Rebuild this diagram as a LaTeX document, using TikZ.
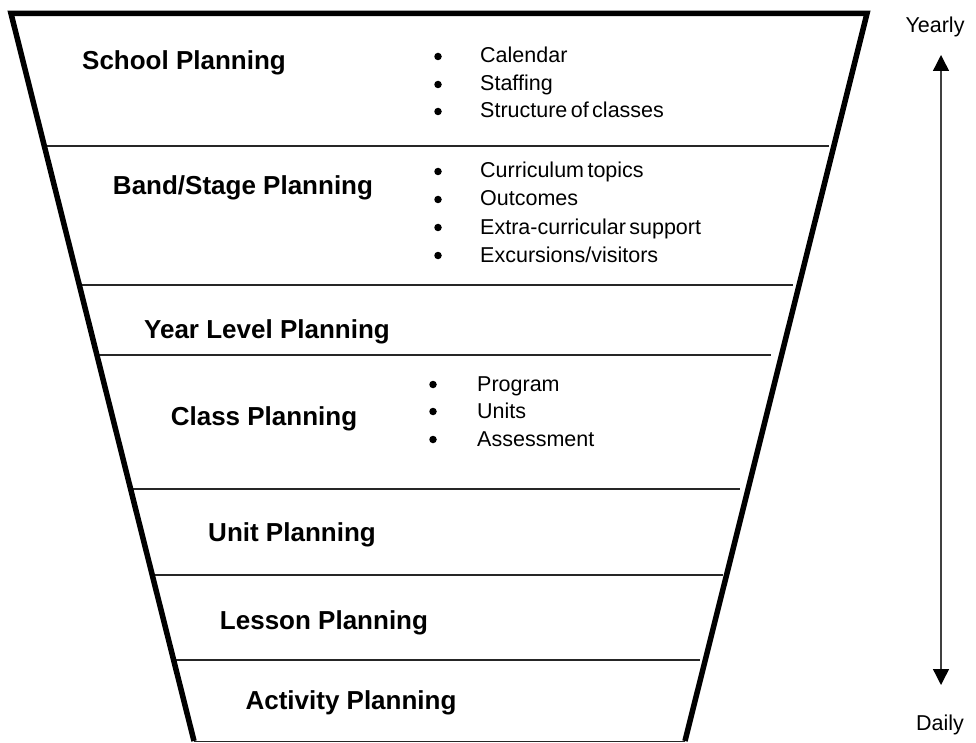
\documentclass[tikz,border=0pt]{standalone}
\usepackage{fontspec}
\setmainfont{Liberation Sans}
\usetikzlibrary{arrows.meta}
\begin{document}
\begin{tikzpicture}[x=1pt,y=-1pt,
  lvl/.style={font=\fontsize{26}{30}\selectfont\bfseries, anchor=base, inner sep=0pt},
  item/.style={font=\fontsize{21.5}{28}\selectfont, anchor=base west, inner sep=0pt},
  bul/.style={circle, fill=black, inner sep=0pt, minimum size=7.5pt, yshift=6.5pt},
  endlabel/.style={font=\fontsize{21.5}{28}\selectfont, anchor=base, inner sep=0pt},
  sepline/.style={line width=1.4pt, draw=black!85},
  rim/.style={line width=5.5pt, line join=miter},
  ftip/.tip={Triangle[width=16pt,length=16pt,color=black,fill=black]}
 ]
\useasboundingbox (0,0) rectangle (976,743);

% separators
\draw[sepline] (44.3,146) -- (829,146);
\draw[sepline] (79.3,285) -- (793,285);
\draw[sepline] (96.9,355) -- (771,355);
\draw[sepline] (130.6,489) -- (740,489);
\draw[sepline] (152.2,575) -- (723,575);
\draw[sepline] (173.6,660) -- (700,660);
\draw[sepline] (194,741.6) -- (685,741.6);

% funnel rim
\draw[rim] (194,741) -- (11,13.5) -- (867,13.5) -- (685,741);

% level labels
\node[lvl] (school) at (184,70) {School Planning};
\node[lvl] (band) at (243,195) {Band/Stage Planning};
\node[lvl] (year) at (267,338) {Year Level Planning};
\node[lvl] (class) at (264,425) {Class Planning};
\node[lvl] (unit) at (292,541) {Unit Planning};
\node[lvl] (lesson) at (324,629) {Lesson Planning};
\node[lvl] (activity) at (351,709) {Activity Planning};

% bullet lists
\node[bul] (b1) at (438,63) {};
\node[item] (t1) at (480,63) {Calendar};
\node[bul] (b2) at (438,91) {};
\node[item] (t2) at (480,91) {Staffing};
\node[bul] (b3) at (438,118) {};
\node[item] (t3) at (480,118) {\spaceskip=0.16em\relax Structure of classes};
\node[bul] (b4) at (438,178) {};
\node[item] (t4) at (480,178) {\spaceskip=0.16em\relax Curriculum topics};
\node[bul] (b5) at (438,206) {};
\node[item] (t5) at (480,206) {Outcomes};
\node[bul] (b6) at (438,234) {};
\node[item] (t6) at (480,234) {\spaceskip=0.16em\relax Extra-curricular support};
\node[bul] (b7) at (438,262) {};
\node[item] (t7) at (480,262) {Excursions/visitors};

\node[bul] (cb1) at (433,391) {};
\node[item] (ct1) at (477,391) {Program};
\node[bul] (cb2) at (433,418) {};
\node[item] (ct2) at (477,418) {Units};
\node[bul] (cb3) at (433,446) {};
\node[item] (ct3) at (477,446) {Assessment};

% time axis
\node[endlabel] (yearly) at (935,33) {Yearly};
\node[endlabel] (daily) at (940,730) {Daily};
\coordinate (top) at (941,55);
\coordinate (bot) at (941,685);
\draw[line width=1.4pt, draw=black!75, ftip-ftip] (top) -- (bot);
\end{tikzpicture}
\end{document}
